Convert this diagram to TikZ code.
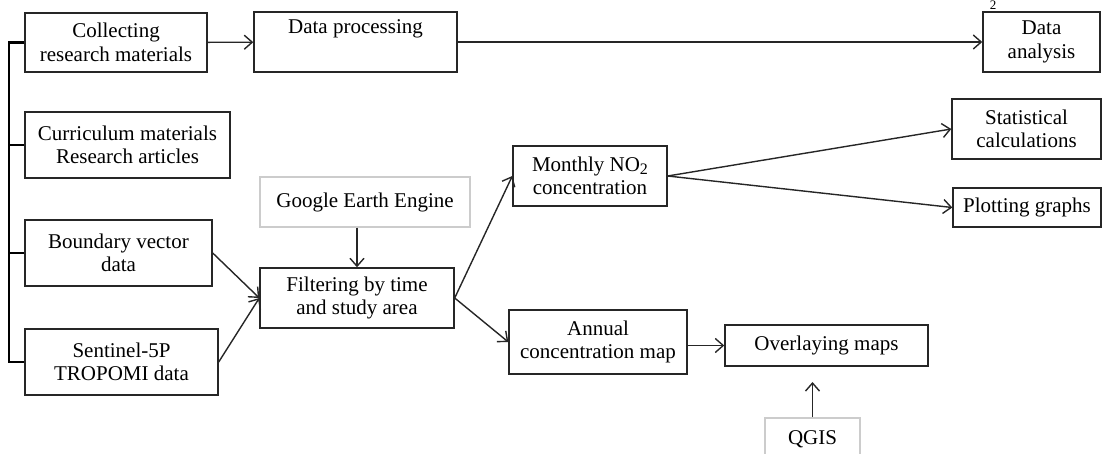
\documentclass[tikz,border=0pt]{standalone}
\usepackage{fontspec}
\setmainfont{Liberation Serif}
\usetikzlibrary{arrows.meta}
\begin{document}
\begin{tikzpicture}[x=1pt,y=-1pt,
  box/.style={draw=black!85, line width=1.4pt, align=center, inner sep=0pt,
    font=\fontsize{21}{23.5}\selectfont},
  softbox/.style={box, line width=1.2pt, draw=black!20},
  flow/.style={line width=1.4pt, draw=black!85, -{Straight Barb[length=8pt,width=14pt,line width=1.4pt]}},
  bracket/.style={line width=2.2pt, draw=black}]
\useasboundingbox (0,0) rectangle (1102,454);

% left column of inputs
\node[box, minimum width=182pt, minimum height=59pt] (collect) at (116,42.5) {Collecting\\research materials};
\node[box, minimum width=205pt, minimum height=66pt] (curr) at (127.5,145) {Curriculum materials\\Research articles};
\node[box, minimum width=187pt, minimum height=66pt] (bound) at (118.5,253) {Boundary vector\\data};
\node[box, minimum width=193pt, minimum height=66pt] (sent) at (121.5,362) {Sentinel-5P\\TROPOMI data};

% top row
\node[box, minimum width=203pt, minimum height=60pt] (proc) at (355.5,42) {Data processing\\\strut};
\node[box, minimum width=117pt, minimum height=60pt] (anal) at (1041.5,42) {Data\\analysis};
\node[font=\fontsize{13}{13}\selectfont, inner sep=0pt] (stray) at (993,5) {2};

% processing chain
\node[softbox, minimum width=210pt, minimum height=50pt] (gee) at (365,202) {Google Earth Engine};
\node[box, minimum width=194pt, minimum height=60pt] (filt) at (357,298) {Filtering by time\\and study area};
\node[box, minimum width=154pt, minimum height=60pt] (month) at (590,176) {Monthly NO\raisebox{-0.3ex}{\fontsize{16}{16}\selectfont 2}\\concentration};
\node[box, minimum width=178pt, minimum height=64pt] (annual) at (598,342) {Annual\\concentration map};
\node[box, minimum width=203pt, minimum height=41pt] (over) at (826.5,345.5) {Overlaying maps};
\node[softbox, minimum width=95pt, minimum height=42pt] (qgis) at (812.5,439) {QGIS};
\node[box, minimum width=149pt, minimum height=60pt] (stat) at (1026.5,129) {Statistical\\calculations};
\node[box, minimum width=148pt, minimum height=39pt] (plot) at (1027,207.5) {Plotting graphs};

% bracket joining the inputs
\draw[bracket] (collect.west) -- ++(-15,0) |- (sent.west);
\draw[bracket] (curr.west) -- ++(-15,0);
\draw[bracket] (bound.west) -- ++(-15,0);

% connectors
\draw[flow] (collect) -- (proc);
\draw[flow] (proc) -- (anal);
\draw[flow] (bound.east) -- (filt.west);
\draw[flow] (sent.east) -- (filt.west);
\draw[flow] (filt.north |- gee.south) -- (filt.north);
\draw[flow] (filt.east) -- (month.west);
\draw[flow] (filt.east) -- (annual.west);
\draw[flow] (month.east) -- (stat.west);
\draw[flow] (month.east) -- (plot.west);
\draw[flow] (over.west -| annual.east) -- (over.west);
\coordinate (qend) at (812.5,382);
\draw[flow] (qgis.north) -- (qend);
\end{tikzpicture}
\end{document}
